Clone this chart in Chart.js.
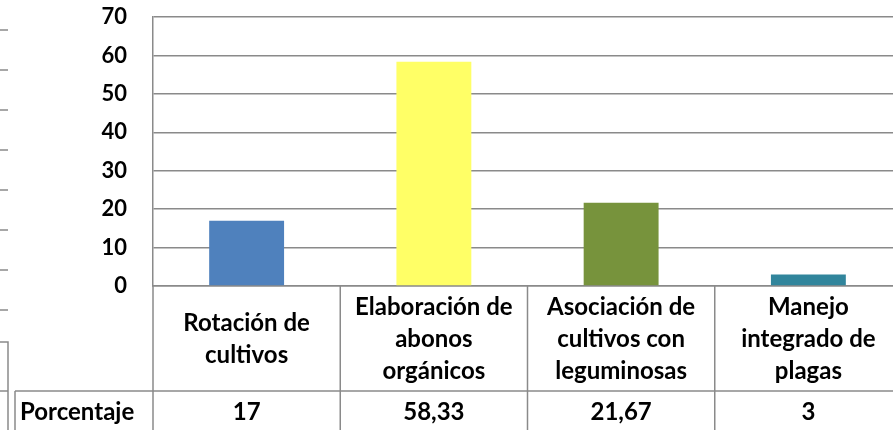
<!DOCTYPE html>
<html>
<head>
<meta charset="utf-8">
<script src="https://cdn.jsdelivr.net/npm/chart.js@4/dist/chart.umd.min.js"></script>
<style>
  html, body { margin: 0; padding: 0; background: #fff; overflow: hidden; }
  canvas { display: block; }
</style>
</head>
<body>
<canvas id="grafico" width="902" height="430"></canvas>
<script>
const categorias = [
  ["Rotación de", "cultivos"],
  ["Elaboración de", "abonos", "orgánicos"],
  ["Asociación de", "cultivos con", "leguminosas"],
  ["Manejo", "integrado de", "plagas"]
];
const porcentaje = [17, 58.33, 21.67, 3];
const colores = ["#4F81BD", "#FFFF66", "#77933C", "#31859C"];
const serieNombre = "Porcentaje";
const yMax = 70;
const yPaso = 10;

const fuente = "Lato, 'Open Sans', sans-serif";
const gris = "#8a8a8a";

function formatar(n){ return String(n).replace(".", ","); }

// tabla de datos bajo el eje (Excel "data table")
const tablaDatos = {
  id: "tablaDatos",
  afterDraw(chart){
    const ctx = chart.ctx;
    const x = chart.scales.x;
    const area = chart.chartArea;
    const paso = x.getPixelForValue(1) - x.getPixelForValue(0);
    const filaTop = area.bottom + 105;
    const abajo = chart.height;
    ctx.save();
    ctx.strokeStyle = gris;
    ctx.lineWidth = 1.5;
    ctx.beginPath();
    for(let i = 0; i <= categorias.length; i++){
      const bx = x.getPixelForValue(0) - paso / 2 + i * paso;
      ctx.moveTo(bx, area.bottom);
      ctx.lineTo(bx, abajo);
    }
    ctx.moveTo(15, filaTop);
    ctx.lineTo(chart.width, filaTop);
    ctx.moveTo(15, filaTop);
    ctx.lineTo(15, abajo);
    ctx.stroke();

    // restos del grafico vecino, borde izquierdo
    ctx.beginPath();
    [30, 70, 110, 150, 190, 230, 270, 310].forEach(t => { ctx.moveTo(0, t); ctx.lineTo(8, t); });
    ctx.moveTo(0, 342); ctx.lineTo(8, 342); ctx.lineTo(8, abajo);
    ctx.moveTo(0, filaTop); ctx.lineTo(8, filaTop);
    ctx.stroke();

    ctx.fillStyle = "#000";
    ctx.font = "bold 24px " + fuente;
    ctx.textBaseline = "middle";
    const ty = filaTop + 21;
    ctx.textAlign = "left";
    ctx.fillText(serieNombre, 20, ty);
    ctx.textAlign = "center";
    porcentaje.forEach((v, i) => {
      ctx.fillText(formatar(v), x.getPixelForValue(i), ty);
    });
    ctx.restore();
  }
};

new Chart(document.getElementById("grafico"), {
  type: "bar",
  data: {
    labels: categorias,
    datasets: [{
      label: serieNombre,
      data: porcentaje,
      backgroundColor: colores,
      borderWidth: 0,
      categoryPercentage: 1,
      barPercentage: 0.4
    }]
  },
  options: {
    responsive: false,
    animation: false,
    layout: { padding: { top: 17, left: 0, right: 0, bottom: 0 } },
    plugins: { legend: { display: false }, tooltip: { enabled: false } },
    scales: {
      x: {
        afterFit: s => { s.height = 144; },
        grid: { display: false, drawTicks: false },
        border: { display: true, color: gris, width: 1.5 },
        ticks: {
          color: "#000",
          maxRotation: 0,
          autoSkip: false,
          padding: 21,
          crossAlign: "center",
          font: { family: fuente, size: 24, weight: "bold", lineHeight: "32px" }
        }
      },
      y: {
        min: 0,
        max: yMax,
        afterFit: s => { s.width = 153; s.paddingTop = 0; s.paddingBottom = 0; },
        grid: { color: gris, lineWidth: 1.5, drawTicks: false },
        border: { display: true, color: gris, width: 1.5 },
        ticks: {
          stepSize: yPaso,
          color: "#000",
          padding: 26,
          font: { family: fuente, size: 22, weight: "bold" }
        }
      }
    }
  },
  plugins: [tablaDatos]
});
</script>
</body>
</html>
